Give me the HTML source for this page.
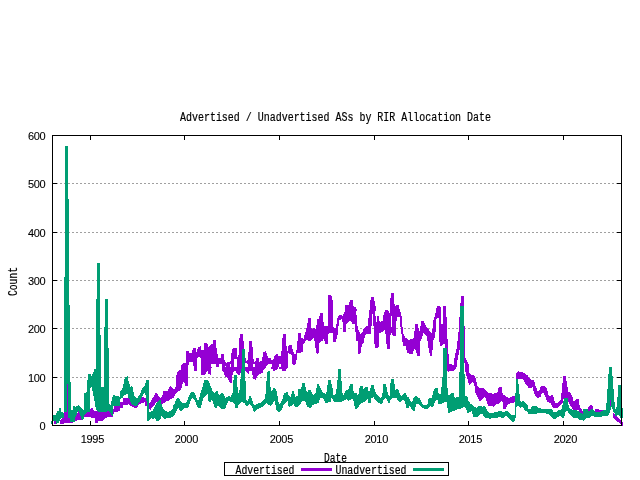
<!DOCTYPE html>
<html lang="en"><head><meta charset="utf-8"><title>Advertised / Unadvertised ASs by RIR Allocation Date</title>
<style>html,body{margin:0;padding:0;background:#fff;overflow:hidden}svg{display:block}text{font-family:"Liberation Mono","DejaVu Sans Mono",monospace;font-size:12px;fill:#000;stroke:#000;stroke-width:.2px}text.n{font-family:"Liberation Sans",sans-serif;font-size:11px;stroke-width:.1px}</style></head><body>
<svg width="640" height="480" viewBox="0 0 640 480">
<rect width="640" height="480" fill="#fff"/>
<g shape-rendering="crispEdges" stroke="#a0a0a0" stroke-width="1" stroke-dasharray="2 2" fill="none"><path d="M56 377.5H621"/><path d="M56 328.5H621"/><path d="M56 280.5H621"/><path d="M56 232.5H621"/><path d="M56 183.5H621"/></g>
<path d="M53.5 421L56 421L56 423.5L53.5 423.5ZM60 420.5L64 415.5L64 411L70 411L70 418L73 418L75 418L78.5 410.5L82 418L82 420L78.5 420L75 421L73 422.5L70 423L70 423L64 423.5L64 423.5L60 423.5ZM83.5 416L90 409L91 408L93 408L93 410L95 411L95 411L98 411L98 412L103 412.5L106 410.5L107.5 410.5L110.5 412.5L113 412L114 405.5L116 405.5L120 405.5L120 402L123 402L123 398L128 397.5L128 405L123 405.5L123 408L120 408.5L120 411L116 412L114 412L113 417L110.5 417L107.5 417L106 418L103 420.5L98 420.5L98 422.5L95 422.5L95 417.5L93 417.5L93 417.5L91 417.5L90 417L83.5 417ZM128 393L130.5 399L133 403L134 404L136 405L137.5 403.5L138.5 402L140.5 399L142 397.5L143.5 397L145 398L145.5 398L147 399L148 400.5L149 403L150.5 402L152 399L153.5 397L155 393.5L156 393L158 394L159 397L161 398L162.5 395.5L163.5 391L165.5 390.5L167 391L168 390.5L169 387L170.5 386L172 388L173 389L174 390L175.5 387L176 377L177.5 372L178.5 371L179 370.5L180.5 370L182 368L183 367L185 367L185.5 367L188 367L188 367L188 368L188 385.5L185.5 385.5L185 380.5L183 380.5L182 387L180.5 390.5L179 390.5L178.5 391L177.5 392L176 393L175.5 394L174 397L173 398L172 398.5L170.5 399L169 400.5L168 402L167 401L165.5 402L163.5 403L162.5 403.5L161 404L159 403.5L158 403L156 402L155 404L153.5 405.5L152 407L150.5 410L149 409L148 408L147 407L145.5 405.5L145 402L143.5 402.5L142 403L140.5 403.5L138.5 405L137.5 407L136 408L134 408L133 407L130.5 405.5L128 404ZM181 366L182.5 363.5L186 363L186 350.5L188 350.5L188 350.5L189 350.5L189 353L192 353L193 347.5L194 347.5L195.5 347.5L196 352.5L197 351L197.5 349L198 347L201 346L201.5 350L203.5 350L204 343L205 343L207 343L208 345.5L208 370.5L207 370.5L205 375L204 375L203.5 375L201.5 375L201 358L198 357L197.5 358L197 370.5L196 370.5L195.5 370.5L194 370.5L193 362L192 362L189 362L189 362L188 368L188 385.5L186 385.5L186 385.5L182.5 380.5L181 378ZM208 367L211 367L211.5 367L211.5 368L211 375L208 374ZM222.5 367L225 367L227 367L228.5 367L230 367L232 367L232.5 367L233.5 367L235 367L237 367L238.5 367L240 367L241 367L241 372L240 375L238.5 375.5L237 374L235 370.5L233.5 372L232.5 375.5L232 383L230 383.5L228.5 380L227 377.5L225 377L222.5 369ZM245 367L247 367L248.5 367L249.5 367L249.5 369L248.5 373.5L247 373L245 370.5ZM252 367L253 367L255.5 367L257 367L259 367L263 367L263.5 367L263.5 368L263 373L259 374L257 377L255.5 380L253 378.5L252 372ZM270.5 367L275.5 367L276 367L276 368L275.5 369L270.5 369ZM279 367L283 367L283 368.5L279 368.5ZM208 347.5L210 345L211 344L211.5 344L213 344L213 340L216 340L216 345.5L217.5 354L218.5 358L219 358L220.5 358.5L221 354L222 354L222.5 354L223.5 354L224 359L225 360.5L226 363L227 362.5L228 362L230 362.5L230 362.5L231 359L231 358L232 349L233.5 347.5L234 347.5L234.5 347.5L236.5 347.5L237 347.5L237.5 357L238.5 355.5L239 343L240 334L243 334L243.5 340.5L244 349L245 358L245.5 358L247 362L248 358L249 345.5L249 341L252 341L252.5 347L253 358L255 363L256 359L256 358.5L258.5 358L259 362L262 360.5L262.5 357L263.5 352L266 351L267 354L268 358L270.5 358.5L272 360.5L273 359L273.5 359L275 355L277.5 354L278.5 356L279.5 356L281 356L282 345.5L282 343L283 334L286 334L286 340.5L287 350.5L288 352L288 368L287 368L286 370.5L286 370.5L283 370.5L282 370.5L282 370.5L281 363.5L279.5 363.5L278.5 367L277.5 369L275 370.5L273.5 370.5L273 370.5L272 364L270.5 363.5L268 363.5L267 365.5L266 367L263.5 370.5L262.5 370.5L262 370.5L259 370.5L258.5 370.5L256 370.5L256 370.5L255 364L253 363.5L252.5 370.5L252 370.5L249 370.5L249 370.5L248 363.5L247 363.5L245.5 363L245 370.5L244 370.5L243.5 370.5L243 370.5L240 370.5L239 370.5L238.5 370.5L237.5 370.5L237 370.5L236.5 358.5L234.5 358.5L234 370.5L233.5 370.5L232 370.5L231 370.5L231 363.5L230 363.5L230 370.5L228 370.5L227 370.5L226 366L225 366L224 370.5L223.5 370.5L222.5 370.5L222 364L221 364L220.5 364L219 364L218.5 367L217.5 367L216 367L216 363.5L213 363.5L213 363.5L211.5 363.5L211 370.5L210 370.5L208 370.5ZM288 347L289 345L292 345.5L292.5 349L294 354L296 354L297 347L297.5 341L298 332.5L300.5 332.5L301 337.5L303 338L303.5 339L305 333L306 330.5L307.5 323L308 318L311 318L311 327L312.5 329L313.5 327.5L315 327.5L316 330.5L317 319L318.5 319L319 319L320 313L323 313L323 319L324 325.5L325 326L327.5 326L328 312L328.5 308L332.5 308L333 313L333 327L335 328L336 327L337 320.5L338 316L339 315L342 315L343 317L343.5 314L345 310.5L346 307L346.5 307L348 307L350.5 307L352.5 307L355 307L356 307L357 323L358 328.5L358.5 330L360.5 334L361 333L362.5 332L363.5 329L364.5 328.5L366 326L368 326L368 334L366 334L364.5 338L363.5 343.5L362.5 344L361 349L360.5 353.5L358.5 353.5L358 341L357 341L356 340.5L355 324L352.5 324L350.5 320.5L348 322L346.5 324L346 331L345 332L343.5 332L343 325.5L342 319L339 320.5L338 332L337 338L336 341L335 342L333 342L333 338L332.5 333L328.5 333.5L328 343L327.5 343.5L325 343.5L324 338.5L323 338.5L323 340.5L320 342L319 343L318.5 353.5L317 353.5L316 353L315 343L313.5 338L312.5 339L311 340.5L311 340.5L308 340.5L307.5 340L306 340L305 343L303.5 344L303 352L301 352.5L300.5 352.5L298 352.5L297.5 352.5L297 355.5L296 364L294 365L292.5 364L292 355.5L289 353.5L288 353ZM368 324L369 312L370.5 307L371 307L373.5 307L374 307L375.5 315.5L378.5 316L379 320.5L380.5 322L383 320.5L383.5 315.5L385 310.5L386 310L387 310L388 310L389.5 313L390 307L391 307L393 307L395.5 307L396 307L398 307L399 310.5L401 312L402 320.5L403 333L405.5 338L407.5 339L409 340.5L410.5 339L412.5 338.5L414 338L415 324L417.5 324L419.5 331L420 330.5L421 321L423.5 321L425 324L427 328L428.5 329L430 332L432 333L432.5 328.5L433.5 320.5L435 315.5L436 310.5L437 307L439 307L439 307L440 307L441 307L441 324L443 324L443 307L445 307L445.5 307L446 307L446.5 317L447.5 339L448 354L448 372L447.5 370.5L446.5 363L446 360.5L445.5 358L445 344L443 344L443 344L441 346L441 346L440 346L439 337L439 318L437 318L436 327L435 337L433.5 340.5L432.5 350.5L432 356L430 356L428.5 348L427 337L425 334L423.5 333L421 340.5L420 342L419.5 356L417.5 356L415 349L414 349L412.5 354L410.5 354L409 353.5L407.5 353L405.5 346L403 346L402 338L401 329L399 322L398 320.5L396 320.5L395.5 336L393 336L391 332L390 339L389.5 349L388 349L387 349L386 339L385 329L383.5 330.5L383 332L380.5 332.5L379 333L378.5 347.5L375.5 347.5L374 342L373.5 325.5L371 325.5L370.5 333.5L369 333.5L368 333.5ZM448 367L453 367L455.5 367L455.5 368L453 370L448 372ZM465 367L466 367L468 368L469 372L471 375L472.5 375L474 375L475.5 378L477.5 385.5L479 388L480.5 388.5L482.5 388L484 388.5L486 391L488 392.5L490 393L492 393.5L493 394L495 393L497 393.5L498.5 388L499.5 387L502 387L502.5 393L503.5 395L505.5 396L507 397L508.5 398L510.5 397.5L512.5 396L514 396L515.5 396L515.5 384L516.5 373L518 371L520.5 372L523 372.5L525.5 374L528 375.5L528 387L525.5 384L523 379L520.5 378.5L518 379L516.5 379L515.5 388L515.5 402L514 402.5L512.5 402.5L510.5 403L508.5 404L507 405.5L505.5 408.5L503.5 408.5L502.5 402L502 400.5L499.5 403L498.5 404L497 404L495 405.5L493 407.5L492 405.5L490 406L488 405.5L486 399L484 397L482.5 399L480.5 401L479 400.5L477.5 397L475.5 393L474 383L472.5 382L471 384L469 385L468 380.5L466 374L465 370.5ZM448 354L449 354L449.5 364L453.5 365L454.5 358L455 355L456 352L457 347L457 345.5L458 336L458.5 332L459 328L459.5 323L460 317.5L461 310L461 307L461 347.5L461 347.5L460 348L459.5 350.5L459 353L458.5 355L458 358L457 362L457 365.5L456 368.5L455 369L454.5 370.5L453.5 370.5L449.5 370.5L449 370.5L448 370.5ZM464 325.5L465 325.5L465 357L467 360.5L468.5 364L468.5 373L467 372L465 370.5L465 368L464 358ZM461 296L464 296L464 310L461 310ZM460 303L461 303L461 320L460 320ZM459 317L460 317L460 335L459 335ZM528 377L530 378.5L531 380.5L532.5 380L534 380.5L535.5 385.5L537.5 390.5L539 392L540.5 387L542 385.5L543.5 385.5L545.5 387L547 388.5L548.5 395L550 396L551 395L553 395.5L555 402.5L557 403L558.5 402L560.5 400.5L561.5 393L562.5 383L563 376L565.5 376L566.5 380.5L567.5 387L568.5 392L570.5 393L572 395.5L573.5 400.5L575 402L576 398.5L578.5 398.5L579 404L580.5 408L582.5 410.5L583.5 411L583.5 417L582.5 416L580.5 413L579 412L578.5 410.5L576 410L575 410L573.5 410L572 408L570.5 405.5L568.5 402L567.5 399L566.5 398L565.5 398L563 399L562.5 403L561.5 404L560.5 405.5L558.5 407L557 408L555 408L553 408L551 404L550 403L548.5 402.5L547 402L545.5 397L543.5 393L542 393L540.5 397L539 397.5L537.5 397.5L535.5 396L534 393L532.5 387L531 388L530 388L528 388ZM588 408L590 405.5L592 405L593 407L593 410L592 410L590 410.5L588 411ZM592 413L594 413L594 416L592 416ZM595 408.5L598 408.5L600 410L603 410L603 412L600 413L598 413L595 412.5ZM613 412L615.5 415.5L618 418L620.5 420.5L622.5 422.5L622.5 425.5L620.5 424L618 422L615.5 420L613 417ZM328 310L328 294.5L331 294.5L331.5 296L332.5 299.5L333 310L333 311L332.5 311L331.5 311L331 311L328 311L328 311ZM344.5 310L345.5 305L349 305L350 300L353 300L353.5 306L356 308L357 310L357 311L356 311L353.5 311L353 311L350 311L349 311L345.5 311L344.5 311ZM369.5 310L370 302.5L371 297L374 297L374.5 300.5L375.5 306L376 310L376 311L375.5 311L374.5 311L374 311L371 311L370 311L369.5 311ZM389.5 310L390 302.5L391 293L394 293L394.5 304L395.5 306L396 305L399 305L399.5 309L400 310L400 311L399.5 311L399 311L396 311L395.5 311L394.5 311L394 311L391 311L390 311L389.5 311ZM436 310L437 305.5L440 305.5L440 310L440 311L440 311L437 311L436 311ZM443 310L443.5 306L446 306L446 310L446 311L446 311L443.5 311L443 311Z" fill="#9400d3" fill-rule="nonzero" shape-rendering="crispEdges"/>
<path d="M371.5 314L373 314L373 326L371.5 326ZM376 305.5L377 305.5L377 321.5L376 321.5ZM391 316L392 316L392 326.5L391 326.5ZM397 317L400 317L400 328L397 328ZM436 318.5L438.5 318.5L438.5 336L436 336Z" fill="#fff" fill-rule="nonzero" shape-rendering="crispEdges"/>
<path d="M51 421L53 421L53 415L56 415L56 415L57 411L58.5 411L59 407.5L61 407.5L61 412L64 413L64 413L64 412L64 417.5L61 418L61 418.5L59 422L58.5 423L57 423.5L56 423.5L56 421L53 421L53 423.5L51 423.5ZM65 146L68 146L68 200L65 200ZM65 199L69 199L69 278L65 278ZM64 277L69 277L69 306L64 306ZM64 305L70 305L70 412L64 412ZM68 405.5L70 405.5L70 382L71 382L71 422L70 422L70 418L68 418ZM71 410.5L73 410L73 405.5L75 406L75 407L77 406L78 405L79 405.5L81 408L82 408.5L83 410.5L84 410L84 393L86.5 392.5L87 387L88 374L90 374L90 374L91 375L92 377L92 375.5L93 373L94.5 369L96 369L98 369L100.5 369L101 387L103.5 387L104 369L106 369L107 369L109 369L109 403L110.5 405.5L111 404L112 399L113 395L113 395L116 396L118 396L120 397L120 392L123 387.5L123 387L125 377L128 376L128 393.5L125 395L123 396L123 397.5L120 399L120 405.5L118 405.5L116 405.5L113 405.5L113 417L112 416L111 415L110.5 413.5L109 412L109 411L107 411L106 412L104 412L103.5 412.5L101 412L100.5 412L98 412L96 410L94.5 401L93 394L92 388.5L92 387L91 387.5L90 388L90 412L88 412L87 412L86.5 413L84 416L84 418.5L83 419L82 420L81 418L79 411L78 411L77 414L75 418L75 422L73 422L73 422L71 422ZM97 263L100 263L100 300L97 300ZM96 299L100 299L100 336L96 336ZM96 335L101 335L101 372L96 372ZM105 299L108 299L108 328L105 328ZM104 327L108 327L108 349L104 349ZM104 348L109 348L109 372L104 372ZM128 380.5L129 381L130 387L131 386L133 387L134 396L136 398L137.5 398L138 397L140.5 393L142 388L143.5 387L145 386L146 380.5L147 380L147.5 380L148.5 380L149 412L150.5 412L151 410.5L152.5 411L153.5 409L155 405.5L156 404L157.5 402L159 400L161 400L161 403L162.5 407L163.5 409L165.5 411L168 412L170.5 411L172.5 409L173.5 405.5L175 403L176 399L177.5 397.5L179 397.5L180 400.5L182 403L183 403.5L185.5 403L187.5 400.5L188.5 397L190 394L191 392.5L193 392L195 393L196 397L198 400.5L199 399L200.5 393L202 389L203 385.5L204 380.5L206 380L208 380.5L208 393L206 395.5L204 397L203 399L202 403L200.5 408L199 408.5L198 408L196 404L195 400.5L193 398L191 399L190 403L188.5 407L187.5 407.5L185.5 408L183 409L182 411L180 411L179 408L177.5 409L176 412L175 414L173.5 415.5L172.5 417L170.5 417.5L168 418L165.5 418.5L163.5 418.5L162.5 417.5L161 415.5L161 418L159 420.5L157.5 420.5L156 420.5L155 418L153.5 418.5L152.5 419L151 417L150.5 419L149 420.5L148.5 420.5L147.5 420.5L147 405.5L146 397L145 393L143.5 393.5L142 397L140.5 400.5L138 404L137.5 405.5L136 405.5L134 405.5L133 405L131 404L130 400.5L129 398.5L128 398ZM208 380.5L209 380.5L210 385.5L212 389L213 392L215 393L216 391L217.5 391L218.5 394L220 395.5L221 392.5L223 392.5L224 395.5L225.5 398L227 397L228.5 396L230.5 397L232.5 393L233 384L234 375.5L235.5 375L237 375.5L237.5 387L238 393L239 393L240 387L241 370.5L242 367L244 367L245 373L245.5 380.5L246 399L248 402L249 396L251 396L252.5 400.5L253.5 404L255 405.5L256 404L258 403.5L260 403L262 401L263.5 400.5L265 398L266 390.5L267 372L268 371L270 371L270.5 387L272 393L273 388L275 388L276 390L277 392L278 400.5L279 404L281 402.5L282.5 399L284 393L286 392.5L288 392L288 400.5L286 402L284 404L282.5 408L281 411L279 412L278 412L277 410.5L276 409L275 400.5L273 403L272 404L270.5 405.5L270 405.5L268 405L267 403.5L266 403L265 404L263.5 405.5L262 407L260 408L258 409L256 410L255 412L253.5 411L252.5 408L251 405.5L249 404L248 405.5L246 405.5L245.5 405L245 404L244 403L242 402L241 402L240 403L239 404L238 405.5L237.5 408L237 408.5L235.5 408L234 402L233 403L232.5 402.5L230.5 402L228.5 400.5L227 404L225.5 408L224 409L223 409L221 408.5L220 408L218.5 406L217.5 405.5L216 408.5L215 408L213 403L212 399L210 402.5L209 402L208 399ZM241.5 349L244.5 349L244.5 372L241.5 372ZM288 395L289 395.5L291 397L292 391L294 391L295 397L297.5 396L298 389L300.5 389L301.5 387L302 383L305 383L305.5 387L307 393L308 390.5L309 390L311 390.5L312 394L313 395L315 394L316 392L317 384L319 384L320 387L322 391L323.5 393L325.5 394L327 390.5L328 380.5L330.5 380L331.5 384L333 390.5L333.5 395L335 395L336 393L337.5 380.5L338 369L341 369L341.5 380.5L342.5 393L343.5 395L345 392L346 390.5L348 390L349 388L350 384L352.5 384L353 388L354 393L355 393L357 393L358 397L359 390.5L360 385.5L362.5 385.5L363 390.5L364 388L365.5 387L368 387L368 399L365.5 401L364 402L363 402.5L362.5 403L360 404L359 405.5L358 408L357 408.5L355 408.5L354 403L353 399L352.5 399L350 400L349 400.5L348 400.5L346 399L345 400L343.5 400.5L342.5 401L341.5 402L341 402L338 402L337.5 402L336 402L335 402L333.5 401L333 399L331.5 398L330.5 402L328 402.5L327 403L325.5 402.5L323.5 399L322 398L320 397.5L319 403L317 403.5L316 404L315 404L313 405L312 405.5L311 408L309 408L308 407L307 407L305.5 402L305 401L302 400.5L301.5 402L300.5 404L298 407L297.5 407L295 407L294 404L292 405L291 406L289 407L288 405.5ZM368 390.5L369 392L370.5 388L371.5 385L373.5 385L374.5 389L376 394L378 396L380 398L382 397L383 389L383 384L386 384L387 389L388 394L389.5 396L390 388L391 379L393.5 379L394.5 384L395.5 390L396.5 389L398.5 390L400 395L402 396L403.5 393.5L405 393L406 394L407.5 397L408.5 397.5L410 400.5L411 402L412.5 401L413.5 397.5L415 396L416 396L418 397.5L420 398.5L422 403.5L423.5 405L425.5 405.5L427.5 404L428.5 399L430 398L432 398L433 393L434 389L435.5 388L437.5 388L438 393L440 395L441 393L442 380.5L443 373L443.5 367L447 367L447 380.5L448 395L448 410.5L447 405.5L447 402L443.5 402.5L443 403L442 403.5L441 404L440 404L438 404L437.5 400L435.5 400.5L434 405L433 406L432 407L430 406L428.5 407.5L427.5 408.5L425.5 409L423.5 408.5L422 407.5L420 405.5L418 403.5L416 404L415 410.5L413.5 410.5L412.5 410.5L411 409L410 405.5L408.5 407.5L407.5 408L406 407.5L405 401L403.5 400L402 400.5L400 402L398.5 401L396.5 398L395.5 397.5L394.5 398L393.5 398L391 399L390 402L389.5 402.5L388 402.5L387 400.5L386 398L383 400.5L383 402L382 403.5L380 403.5L378 402.5L376 400.5L374.5 399L373.5 397L371.5 398L370.5 403L369 403.5L368 403ZM443 347.5L447 347.5L447 370L443 370ZM448 395L450 395.5L451 393L453.5 393.5L455 398L456 397.5L458.5 397L459.5 372L460 367L464 367L465 380.5L465.5 396L467.5 397L468.5 400.5L470 403.5L472 404L473 405.5L475 407L477 408L478 405.5L480.5 405.5L482.5 407L483.5 406L485.5 407L487.5 410.5L488.5 412.5L491 413L493.5 412.5L495.5 412L497.5 412L499 410.5L501 410.5L502.5 412.5L504 412L505.5 411L507.5 411L509 413L511 415L513 415.5L515 415L515.5 393L516 379L518 379L519 388L520 399L521 402L522.5 401L524 401L525.5 403L528 405.5L528 412L525.5 411L524 409L522.5 407L521 407.5L520 408L519 407L518 405.5L516 407L515.5 418L515 420L513 422L511 421L509 419L507.5 417L505.5 416L504 418L502.5 418.5L501 417.5L499 417L497.5 417.5L495.5 417.5L493.5 418L491 418.5L488.5 418.5L487.5 418L485.5 417.5L483.5 416L482.5 414L480.5 414L478 416L477 417L475 417L473 417L472 410.5L470 412L468.5 412.5L467.5 412.5L465.5 408L465 407L464 407L460 409L459.5 409L458.5 409L456 410L455 410.5L453.5 410.5L451 412L450 412.5L448 412.5ZM460 306L464 306L464 372L460 372ZM528 409L530.5 409L532 405.5L537 405.5L538 408L540.5 408.5L544 409L548 409L550 408.5L552 409L553.5 412L556 412L557.5 410.5L560.5 410L562 408L563 403L564 398.5L565.5 398L567.5 398L568 402L569 407L570.5 409L572.5 410L575 410L577 410.5L578 411L580.5 413L582.5 414L583.5 409L585 408.5L587 408.5L588 410.5L590 410.5L591 409L593 409L595 412L597.5 412.5L600 412L603 410.5L605.5 410L607 409L607 415.5L605.5 415.5L603 416L600 417L597.5 417.5L595 417L593 416L591 415.5L590 417.5L588 418L587 418L585 419L583.5 420.5L582.5 420.5L580.5 420L578 419L577 418L575 417.5L572.5 417.5L570.5 415.5L569 414L568 412L567.5 410.5L565.5 412L564 418L563 418L562 418L560.5 415.5L557.5 417L556 419L553.5 419L552 418L550 415L548 414L544 413L540.5 412.5L538 412.5L537 414L532 414L530.5 413.5L528 413.5ZM606 409L607 398L608 380.5L609 367L612 367L612.5 375.5L613.5 389L614.5 402L615.5 409L617 405.5L617.5 397L618 385.5L620.5 385L621 385L621.5 408L623 408L623 418L621.5 418L621 418L620.5 418L618 414L617.5 415.5L617 416L615.5 416L614.5 413L613.5 412L612.5 409L612 405.5L609 415L608 415.5L607 415.5L606 415.5Z" fill="#009e73" fill-rule="nonzero" shape-rendering="crispEdges"/>
<path d="M67 383.5L68 383.5L68 412L67 412ZM106.5 404L107 404L107 413L106.5 413ZM610 400L611 400L611 405.5L610 405.5Z" fill="#9400d3" fill-rule="nonzero" shape-rendering="crispEdges"/>
<g shape-rendering="crispEdges" stroke="#000" stroke-width="1" fill="none"><rect x="52.5" y="135.5" width="569" height="290"/><path d="M53 377.5h4M621 377.5h-4"/><path d="M53 328.5h4M621 328.5h-4"/><path d="M53 280.5h4M621 280.5h-4"/><path d="M53 232.5h4M621 232.5h-4"/><path d="M53 183.5h4M621 183.5h-4"/><path d="M90.5 425v-4M90.5 136v4"/><path d="M184.5 425v-4M184.5 136v4"/><path d="M279.5 425v-4M279.5 136v4"/><path d="M374.5 425v-4M374.5 136v4"/><path d="M468.5 425v-4M468.5 136v4"/><path d="M563.5 425v-4M563.5 136v4"/><rect x="224.5" y="462.5" width="224" height="13" fill="#fff"/></g>
<g shape-rendering="crispEdges"><rect x="301" y="468" width="31" height="3" fill="#9400d3"/><rect x="413" y="468" width="31" height="3" fill="#009e73"/></g>
<text x="180" y="121" text-anchor="start" textLength="311" lengthAdjust="spacingAndGlyphs" >Advertised / Unadvertised ASs by RIR Allocation Date</text>
<text class="n" x="45.5" y="429.5" text-anchor="end" textLength="5.5" lengthAdjust="spacing" >0</text>
<text class="n" x="45.5" y="381.5" text-anchor="end" textLength="17.5" lengthAdjust="spacing" >100</text>
<text class="n" x="45.5" y="332.5" text-anchor="end" textLength="17.5" lengthAdjust="spacing" >200</text>
<text class="n" x="45.5" y="284.5" text-anchor="end" textLength="17.5" lengthAdjust="spacing" >300</text>
<text class="n" x="45.5" y="236.5" text-anchor="end" textLength="17.5" lengthAdjust="spacing" >400</text>
<text class="n" x="45.5" y="187.5" text-anchor="end" textLength="17.5" lengthAdjust="spacing" >500</text>
<text class="n" x="45.5" y="139.5" text-anchor="end" textLength="17.5" lengthAdjust="spacing" >600</text>
<text class="n" x="92.5" y="442.5" text-anchor="middle" textLength="23.5" lengthAdjust="spacing" >1995</text>
<text class="n" x="186.5" y="442.5" text-anchor="middle" textLength="23.5" lengthAdjust="spacing" >2000</text>
<text class="n" x="281.5" y="442.5" text-anchor="middle" textLength="23.5" lengthAdjust="spacing" >2005</text>
<text class="n" x="376.5" y="442.5" text-anchor="middle" textLength="23.5" lengthAdjust="spacing" >2010</text>
<text class="n" x="470.5" y="442.5" text-anchor="middle" textLength="23.5" lengthAdjust="spacing" >2015</text>
<text class="n" x="565.5" y="442.5" text-anchor="middle" textLength="23.5" lengthAdjust="spacing" >2020</text>
<text x="335.5" y="461.5" text-anchor="middle" textLength="23" lengthAdjust="spacingAndGlyphs" >Date</text>
<text x="235.5" y="473.5" text-anchor="start" textLength="59" lengthAdjust="spacingAndGlyphs" >Advertised</text>
<text x="335.5" y="473.5" text-anchor="start" textLength="71" lengthAdjust="spacingAndGlyphs" >Unadvertised</text>
<g transform="translate(16.5 281.5) rotate(-90)"><text x="0" y="0" text-anchor="middle" textLength="29" lengthAdjust="spacingAndGlyphs" >Count</text></g>
</svg></body></html>
